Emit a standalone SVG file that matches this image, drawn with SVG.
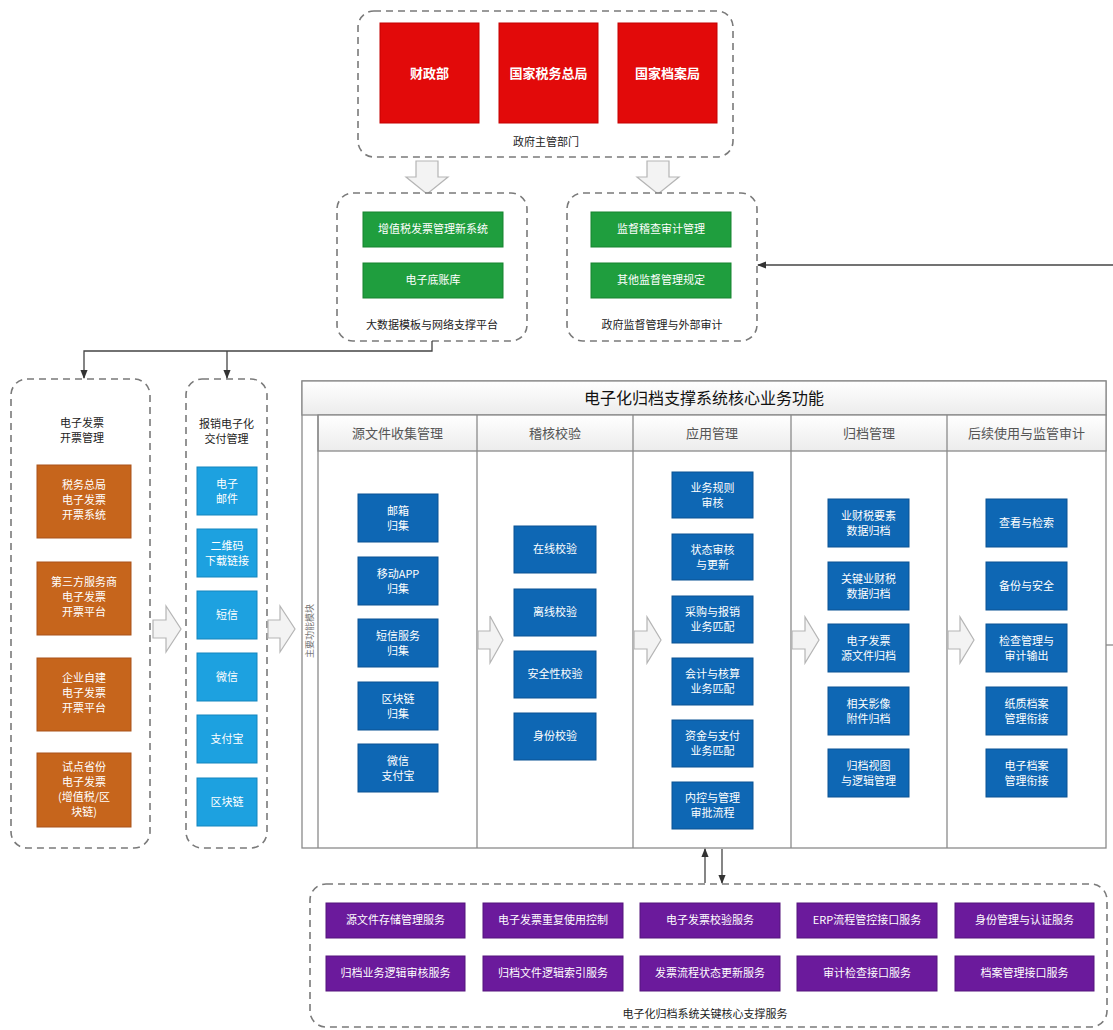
<svg xmlns="http://www.w3.org/2000/svg" width="1113" height="1030" viewBox="0 0 1113 1030">
<defs>
<style>
text{font-family:"Noto Sans CJK SC","Noto Sans",sans-serif;}
.dash{fill:#fff;stroke:#7a7a7a;stroke-width:1.6;stroke-dasharray:7,5;}
.red{fill:#e20a0a;stroke:#c40000;stroke-width:1;}
.green{fill:#1f9e3e;stroke:#17832f;stroke-width:1;}
.orange{fill:#c6651c;stroke:#a9531a;stroke-width:1;}
.lblue{fill:#1da1e0;stroke:#1585bd;stroke-width:1;}
.blue{fill:#0e67b4;stroke:#0a5393;stroke-width:1;}
.purple{fill:#6b1a9c;stroke:#55147d;stroke-width:1;}
.wt{fill:#fff;font-size:11px;text-anchor:middle;}
.wtb{fill:#fff;font-size:13px;font-weight:bold;text-anchor:middle;}
.lbl{fill:#222;font-size:11px;text-anchor:middle;}
.hdr{fill:#555;font-size:13px;text-anchor:middle;}
.hollow{fill:#f3f3f3;stroke:#b5b5b5;stroke-width:1.2;}
.conn{fill:none;stroke:#444;stroke-width:1.3;}
.frame{fill:none;stroke:#8a8a8a;stroke-width:1.3;}
</style>
<linearGradient id="hg" x1="0" y1="0" x2="0" y2="1">
<stop offset="0" stop-color="#ffffff"/>
<stop offset="1" stop-color="#ececec"/>
</linearGradient>
<marker id="ah" viewBox="0 0 10 10" refX="9" refY="5" markerWidth="7" markerHeight="7" orient="auto-start-reverse">
<path d="M0,1 L10,5 L0,9 z" fill="#333"/>
</marker>
</defs>
<rect width="1113" height="1030" fill="#fff"/>

<!-- Government departments -->
<g id="gov">
<rect class="dash" x="358" y="11" width="375" height="146" rx="16"/>
<text class="lbl" x="546" y="146">政府主管部门</text>
</g>
<g id="czb"><rect class="red" x="380" y="23" width="99" height="100"/><text class="wtb" x="429.5" y="78">财政部</text></g>
<g id="swzj"><rect class="red" x="499" y="23" width="99" height="100"/><text class="wtb" x="548.5" y="78">国家税务总局</text></g>
<g id="daj"><rect class="red" x="618" y="23" width="99" height="100"/><text class="wtb" x="667.5" y="78">国家档案局</text></g>

<!-- hollow down arrows -->
<g id="hollow-down">
<polygon class="hollow" points="416,161 438,161 438,177 448,177 427,194 406,177 416,177"/>
<polygon class="hollow" points="647,161 669,161 669,177 679,177 658,194 637,177 647,177"/>
</g>

<!-- Big data platform -->
<g id="platform">
<rect class="dash" x="337" y="193" width="190" height="148" rx="16"/>
<text class="lbl" x="432" y="329">大数据模板与网络支撑平台</text>
</g>
<g id="zzs"><rect class="green" x="363" y="212" width="140" height="35"/><text class="wt" x="433" y="233">增值税发票管理新系统</text></g>
<g id="dzdz"><rect class="green" x="363" y="263" width="140" height="35"/><text class="wt" x="433" y="284">电子底账库</text></g>

<g id="supervision">
<rect class="dash" x="567" y="193" width="190" height="148" rx="16"/>
<text class="lbl" x="662" y="329">政府监督管理与外部审计</text>
</g>
<g id="jdjc"><rect class="green" x="591" y="212" width="140" height="35"/><text class="wt" x="661" y="233">监督稽查审计管理</text></g>
<g id="qtjd"><rect class="green" x="591" y="263" width="140" height="35"/><text class="wt" x="661" y="284">其他监督管理规定</text></g>

<!-- Left column: invoice issuing -->
<g id="issue">
<rect class="dash" x="11" y="379" width="139" height="469" rx="16"/>
<text x="82" y="427" style="fill:#222;font-size:11px;text-anchor:middle">电子发票</text>
<text x="82" y="442" style="fill:#222;font-size:11px;text-anchor:middle">开票管理</text>
</g>
<g id="o1"><rect class="orange" x="37" y="465" width="94" height="73"/><text class="wt" x="84" y="489">税务总局</text><text class="wt" x="84" y="504">电子发票</text><text class="wt" x="84" y="519">开票系统</text></g>
<g id="o2"><rect class="orange" x="37" y="562" width="94" height="73"/><text class="wt" x="84" y="586">第三方服务商</text><text class="wt" x="84" y="601">电子发票</text><text class="wt" x="84" y="616">开票平台</text></g>
<g id="o3"><rect class="orange" x="37" y="658" width="94" height="73"/><text class="wt" x="84" y="682">企业自建</text><text class="wt" x="84" y="697">电子发票</text><text class="wt" x="84" y="712">开票平台</text></g>
<g id="o4"><rect class="orange" x="37" y="753" width="94" height="74"/><text class="wt" x="84" y="771">试点省份</text><text class="wt" x="84" y="786">电子发票</text><text class="wt" x="84" y="801">(增值税/区</text><text class="wt" x="84" y="816">块链)</text></g>

<!-- Second column: delivery -->
<g id="delivery">
<rect class="dash" x="186" y="379" width="81" height="469" rx="16"/>
<text x="226.5" y="428" style="fill:#222;font-size:11px;text-anchor:middle">报销电子化</text>
<text x="226.5" y="443" style="fill:#222;font-size:11px;text-anchor:middle">交付管理</text>
</g>
<g id="d1"><rect class="lblue" x="197" y="467" width="60" height="48"/><text class="wt" x="227" y="488">电子</text><text class="wt" x="227" y="503">邮件</text></g>
<g id="d2"><rect class="lblue" x="197" y="529" width="60" height="48"/><text class="wt" x="227" y="550">二维码</text><text class="wt" x="227" y="565">下载链接</text></g>
<g id="d3"><rect class="lblue" x="197" y="591" width="60" height="48"/><text class="wt" x="227" y="619">短信</text></g>
<g id="d4"><rect class="lblue" x="197" y="653" width="60" height="48"/><text class="wt" x="227" y="681">微信</text></g>
<g id="d5"><rect class="lblue" x="197" y="715" width="60" height="48"/><text class="wt" x="227" y="743">支付宝</text></g>
<g id="d6"><rect class="lblue" x="197" y="778" width="60" height="48"/><text class="wt" x="227" y="806">区块链</text></g>

<!-- Main core function frame -->
<g id="core">
<rect x="302" y="381" width="804" height="467" fill="#fff" stroke="#8a8a8a" stroke-width="1.3"/>
<rect x="302" y="381" width="804" height="34" fill="url(#hg)" stroke="#8a8a8a" stroke-width="1.3"/>
<text x="704" y="404" style="fill:#111;font-size:16px;text-anchor:middle">电子化归档支撑系统核心业务功能</text>
<rect x="318" y="415" width="788" height="36" fill="url(#hg)" stroke="#8a8a8a" stroke-width="1.3"/>
<line class="frame" x1="318" y1="415" x2="318" y2="848"/>
<line class="frame" x1="477" y1="415" x2="477" y2="848"/>
<line class="frame" x1="633" y1="415" x2="633" y2="848"/>
<line class="frame" x1="791" y1="415" x2="791" y2="848"/>
<line class="frame" x1="947" y1="415" x2="947" y2="848"/>
<text x="313" y="631" transform="rotate(-90 313 631)" style="fill:#777;font-size:9px;text-anchor:middle">主要功能模块</text>
<text class="hdr" x="397.5" y="438">源文件收集管理</text>
<text class="hdr" x="555" y="438">稽核校验</text>
<text class="hdr" x="712" y="438">应用管理</text>
<text class="hdr" x="869" y="438">归档管理</text>
<text class="hdr" x="1026.5" y="438">后续使用与监管审计</text>
</g>

<!-- Column 1 -->
<g id="c1a"><rect class="blue" x="358" y="494" width="80" height="48"/><text class="wt" x="398" y="515">邮箱</text><text class="wt" x="398" y="530">归集</text></g>
<g id="c1b"><rect class="blue" x="358" y="557" width="80" height="48"/><text class="wt" x="398" y="578">移动APP</text><text class="wt" x="398" y="593">归集</text></g>
<g id="c1c"><rect class="blue" x="358" y="619" width="80" height="48"/><text class="wt" x="398" y="640">短信服务</text><text class="wt" x="398" y="655">归集</text></g>
<g id="c1d"><rect class="blue" x="358" y="682" width="80" height="48"/><text class="wt" x="398" y="703">区块链</text><text class="wt" x="398" y="718">归集</text></g>
<g id="c1e"><rect class="blue" x="358" y="744" width="80" height="48"/><text class="wt" x="398" y="765">微信</text><text class="wt" x="398" y="780">支付宝</text></g>

<!-- Column 2 -->
<g id="c2a"><rect class="blue" x="514" y="526" width="82" height="47"/><text class="wt" x="555" y="553">在线校验</text></g>
<g id="c2b"><rect class="blue" x="514" y="589" width="82" height="47"/><text class="wt" x="555" y="616">离线校验</text></g>
<g id="c2c"><rect class="blue" x="514" y="651" width="82" height="47"/><text class="wt" x="555" y="678">安全性校验</text></g>
<g id="c2d"><rect class="blue" x="514" y="713" width="82" height="47"/><text class="wt" x="555" y="740">身份校验</text></g>

<!-- Column 3 -->
<g id="c3a"><rect class="blue" x="672" y="472" width="81" height="46"/><text class="wt" x="712.5" y="492">业务规则</text><text class="wt" x="712.5" y="507">审核</text></g>
<g id="c3b"><rect class="blue" x="672" y="534" width="81" height="46"/><text class="wt" x="712.5" y="554">状态审核</text><text class="wt" x="712.5" y="569">与更新</text></g>
<g id="c3c"><rect class="blue" x="672" y="596" width="81" height="47"/><text class="wt" x="712.5" y="616">采购与报销</text><text class="wt" x="712.5" y="631">业务匹配</text></g>
<g id="c3d"><rect class="blue" x="672" y="658" width="81" height="47"/><text class="wt" x="712.5" y="678">会计与核算</text><text class="wt" x="712.5" y="693">业务匹配</text></g>
<g id="c3e"><rect class="blue" x="672" y="720" width="81" height="47"/><text class="wt" x="712.5" y="740">资金与支付</text><text class="wt" x="712.5" y="755">业务匹配</text></g>
<g id="c3f"><rect class="blue" x="672" y="782" width="81" height="47"/><text class="wt" x="712.5" y="802">内控与管理</text><text class="wt" x="712.5" y="817">审批流程</text></g>

<!-- Column 4 -->
<g id="c4a"><rect class="blue" x="828" y="499" width="81" height="48"/><text class="wt" x="868.5" y="520">业财税要素</text><text class="wt" x="868.5" y="535">数据归档</text></g>
<g id="c4b"><rect class="blue" x="828" y="562" width="81" height="48"/><text class="wt" x="868.5" y="583">关键业财税</text><text class="wt" x="868.5" y="598">数据归档</text></g>
<g id="c4c"><rect class="blue" x="828" y="624" width="81" height="48"/><text class="wt" x="868.5" y="645">电子发票</text><text class="wt" x="868.5" y="660">源文件归档</text></g>
<g id="c4d"><rect class="blue" x="828" y="687" width="81" height="48"/><text class="wt" x="868.5" y="708">相关影像</text><text class="wt" x="868.5" y="723">附件归档</text></g>
<g id="c4e"><rect class="blue" x="828" y="749" width="81" height="48"/><text class="wt" x="868.5" y="770">归档视图</text><text class="wt" x="868.5" y="785">与逻辑管理</text></g>

<!-- Column 5 -->
<g id="c5a"><rect class="blue" x="986" y="499" width="81" height="48"/><text class="wt" x="1026.5" y="527">查看与检索</text></g>
<g id="c5b"><rect class="blue" x="986" y="562" width="81" height="48"/><text class="wt" x="1026.5" y="590">备份与安全</text></g>
<g id="c5c"><rect class="blue" x="986" y="624" width="81" height="48"/><text class="wt" x="1026.5" y="645">检查管理与</text><text class="wt" x="1026.5" y="660">审计输出</text></g>
<g id="c5d"><rect class="blue" x="986" y="687" width="81" height="48"/><text class="wt" x="1026.5" y="708">纸质档案</text><text class="wt" x="1026.5" y="723">管理衔接</text></g>
<g id="c5e"><rect class="blue" x="986" y="749" width="81" height="48"/><text class="wt" x="1026.5" y="770">电子档案</text><text class="wt" x="1026.5" y="785">管理衔接</text></g>

<!-- Bottom support services -->
<g id="support">
<rect class="dash" x="310" y="884" width="797" height="143" rx="16"/>
<text class="lbl" x="705" y="1018">电子化归档系统关键核心支撑服务</text>
</g>
<g id="s1"><rect class="purple" x="326" y="903" width="139" height="35"/><text class="wt" x="395.5" y="924">源文件存储管理服务</text></g>
<g id="s2"><rect class="purple" x="483" y="903" width="140" height="35"/><text class="wt" x="553" y="924">电子发票重复使用控制</text></g>
<g id="s3"><rect class="purple" x="640" y="903" width="140" height="35"/><text class="wt" x="710" y="924">电子发票校验服务</text></g>
<g id="s4"><rect class="purple" x="797" y="903" width="140" height="35"/><text class="wt" x="867" y="924">ERP流程管控接口服务</text></g>
<g id="s5"><rect class="purple" x="955" y="903" width="139" height="35"/><text class="wt" x="1024.5" y="924">身份管理与认证服务</text></g>
<g id="s6"><rect class="purple" x="326" y="956" width="139" height="35"/><text class="wt" x="395.5" y="977">归档业务逻辑审核服务</text></g>
<g id="s7"><rect class="purple" x="483" y="956" width="140" height="35"/><text class="wt" x="553" y="977">归档文件逻辑索引服务</text></g>
<g id="s8"><rect class="purple" x="640" y="956" width="140" height="35"/><text class="wt" x="710" y="977">发票流程状态更新服务</text></g>
<g id="s9"><rect class="purple" x="797" y="956" width="140" height="35"/><text class="wt" x="867" y="977">审计检查接口服务</text></g>
<g id="s10"><rect class="purple" x="955" y="956" width="139" height="35"/><text class="wt" x="1024.5" y="977">档案管理接口服务</text></g>

<!-- Connectors -->
<g id="connectors">
<polyline class="conn" points="432,341 432,351 84,351 84,378" marker-end="url(#ah)"/>
<line class="conn" x1="227" y1="351" x2="227" y2="378" marker-end="url(#ah)"/>
<polyline class="conn" points="1113,265 758,265" marker-end="url(#ah)"/>
<line class="conn" x1="1106" y1="645" x2="1113" y2="645" style="stroke:#888"/>
<line class="conn" x1="705" y1="883" x2="705" y2="849" marker-end="url(#ah)"/>
<line class="conn" x1="722" y1="849" x2="722" y2="883" marker-end="url(#ah)"/>
<polygon class="hollow" points="153,620 166,620 166,606 181,629 166,652 166,638 153,638"/>
<polygon class="hollow" points="268,620 280,620 280,606 295,629 280,652 280,638 268,638"/>
<polygon class="hollow" points="478,631 490,631 490,616 503,640 490,663 490,649 478,649"/>
<polygon class="hollow" points="634,631 647,631 647,617 661,640 647,663 647,649 634,649"/>
<polygon class="hollow" points="792,631 805,631 805,617 819,640 805,663 805,649 792,649"/>
<polygon class="hollow" points="948,631 960,631 960,617 974,640 960,663 960,649 948,649"/>
</g>
</svg>
